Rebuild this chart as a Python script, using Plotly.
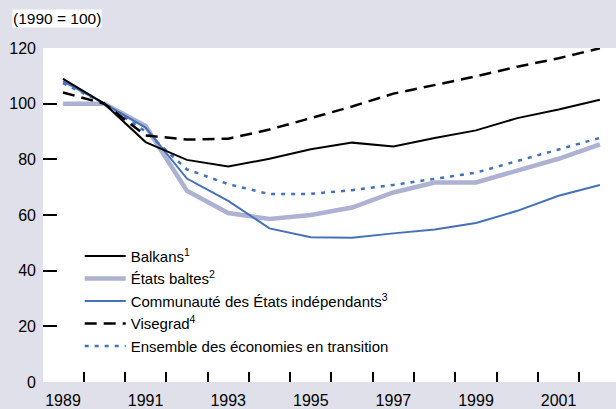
import plotly.graph_objects as go

years = list(range(1989, 2003))
balkans = [108.9, 100, 86.2, 79.8, 77.4, 80.2, 83.6, 86.0, 84.6, 87.7, 90.4, 94.8, 97.9, 101.4]
baltes = [100, 100, 92.0, 68.7, 60.7, 58.6, 60.0, 62.7, 68.1, 71.7, 71.7, 75.8, 80.2, 85.4]
cei = [108.0, 100, 91.4, 73.1, 65.1, 55.2, 52.0, 51.8, 53.4, 54.8, 57.1, 61.5, 66.9, 70.8]
visegrad = [104.0, 100, 88.6, 87.1, 87.4, 90.7, 94.8, 99.0, 103.6, 106.8, 109.8, 113.3, 116.3, 119.9]
ensemble = [107.4, 100, 90.0, 76.4, 71.1, 67.5, 67.6, 68.9, 70.8, 73.1, 75.2, 79.4, 83.6, 87.7]

tick_years = [1989, 1991, 1993, 1995, 1997, 1999, 2001]
tick_text = [str(y) for y in tick_years]
boundary_ticks = [y + 0.5 for y in years[:-1]]
y_ticks = [0, 20, 40, 60, 80, 100, 120]

FONT = "Liberation Sans, Arial, sans-serif"
LAV = "#adb1d2"
BLUE = "#4471b8"
XRANGE = [1988.516, 2002.39]

fig = go.Figure()
fig.add_trace(go.Scatter(x=years, y=baltes, mode="lines", name="États baltes<sup>2</sup>",
                         line=dict(color=LAV, width=4.5), legendrank=2))
fig.add_trace(go.Scatter(x=years, y=cei, mode="lines", name="Communauté des États indépendants<sup>3</sup>",
                         line=dict(color=BLUE, width=2), legendrank=3))
fig.add_trace(go.Scatter(x=years, y=ensemble, mode="lines", name="Ensemble des économies en transition",
                         line=dict(color=BLUE, width=2.5, dash="4px,6px"), legendrank=5))
fig.add_trace(go.Scatter(x=years, y=visegrad, mode="lines", name="Visegrad<sup>4</sup>",
                         line=dict(color="black", width=2.5, dash="12px,7px"), legendrank=4))
fig.add_trace(go.Scatter(x=years, y=balkans, mode="lines", name="Balkans<sup>1</sup>",
                         line=dict(color="black", width=2), legendrank=1))

fig.update_layout(
    width=616, height=409,
    margin=dict(l=43, r=0, t=48, b=25),
    paper_bgcolor="#e0e0ea",
    plot_bgcolor="white",
    font=dict(family=FONT, size=16, color="black"),
    showlegend=True,
    legend=dict(x=0.064, y=0.426, xanchor="left", yanchor="top",
                bgcolor="rgba(0,0,0,0)", font=dict(size=15, family=FONT),
                itemwidth=41, tracegroupgap=0),
    xaxis=dict(range=XRANGE, showgrid=False, zeroline=False, showline=False,
               tickmode="array", tickvals=boundary_ticks, showticklabels=False,
               ticks="inside", ticklen=10, tickwidth=2, tickcolor="black"),
    xaxis2=dict(range=XRANGE, overlaying="x", side="bottom", anchor="y",
                showgrid=False, zeroline=False, showline=False,
                tickmode="array", tickvals=tick_years, ticktext=tick_text, ticks="",
                tickfont=dict(size=16), ticklabelstandoff=7),
    yaxis=dict(range=[0, 120], showgrid=False, zeroline=False, showline=False,
               tickmode="array", tickvals=y_ticks, ticks="inside", ticklen=14,
               tickwidth=2, tickcolor="black", tickfont=dict(size=16), ticklabelstandoff=6),
    annotations=[dict(text="(1990 = 100)", xref="paper", yref="paper", x=-0.054, y=1.088,
                      xanchor="left", yanchor="middle", showarrow=False, bgcolor="white",
                      borderpad=0, font=dict(size=15.5, family=FONT))],
)
# invisible trace to activate the label axis
fig.add_trace(go.Scatter(x=[years[0]], y=[None], xaxis="x2", yaxis="y", showlegend=False,
                         hoverinfo="skip", mode="lines"))

fig.write_html("out.html", config={"displayModeBar": False},
               post_script="document.body.style.margin='0';")
